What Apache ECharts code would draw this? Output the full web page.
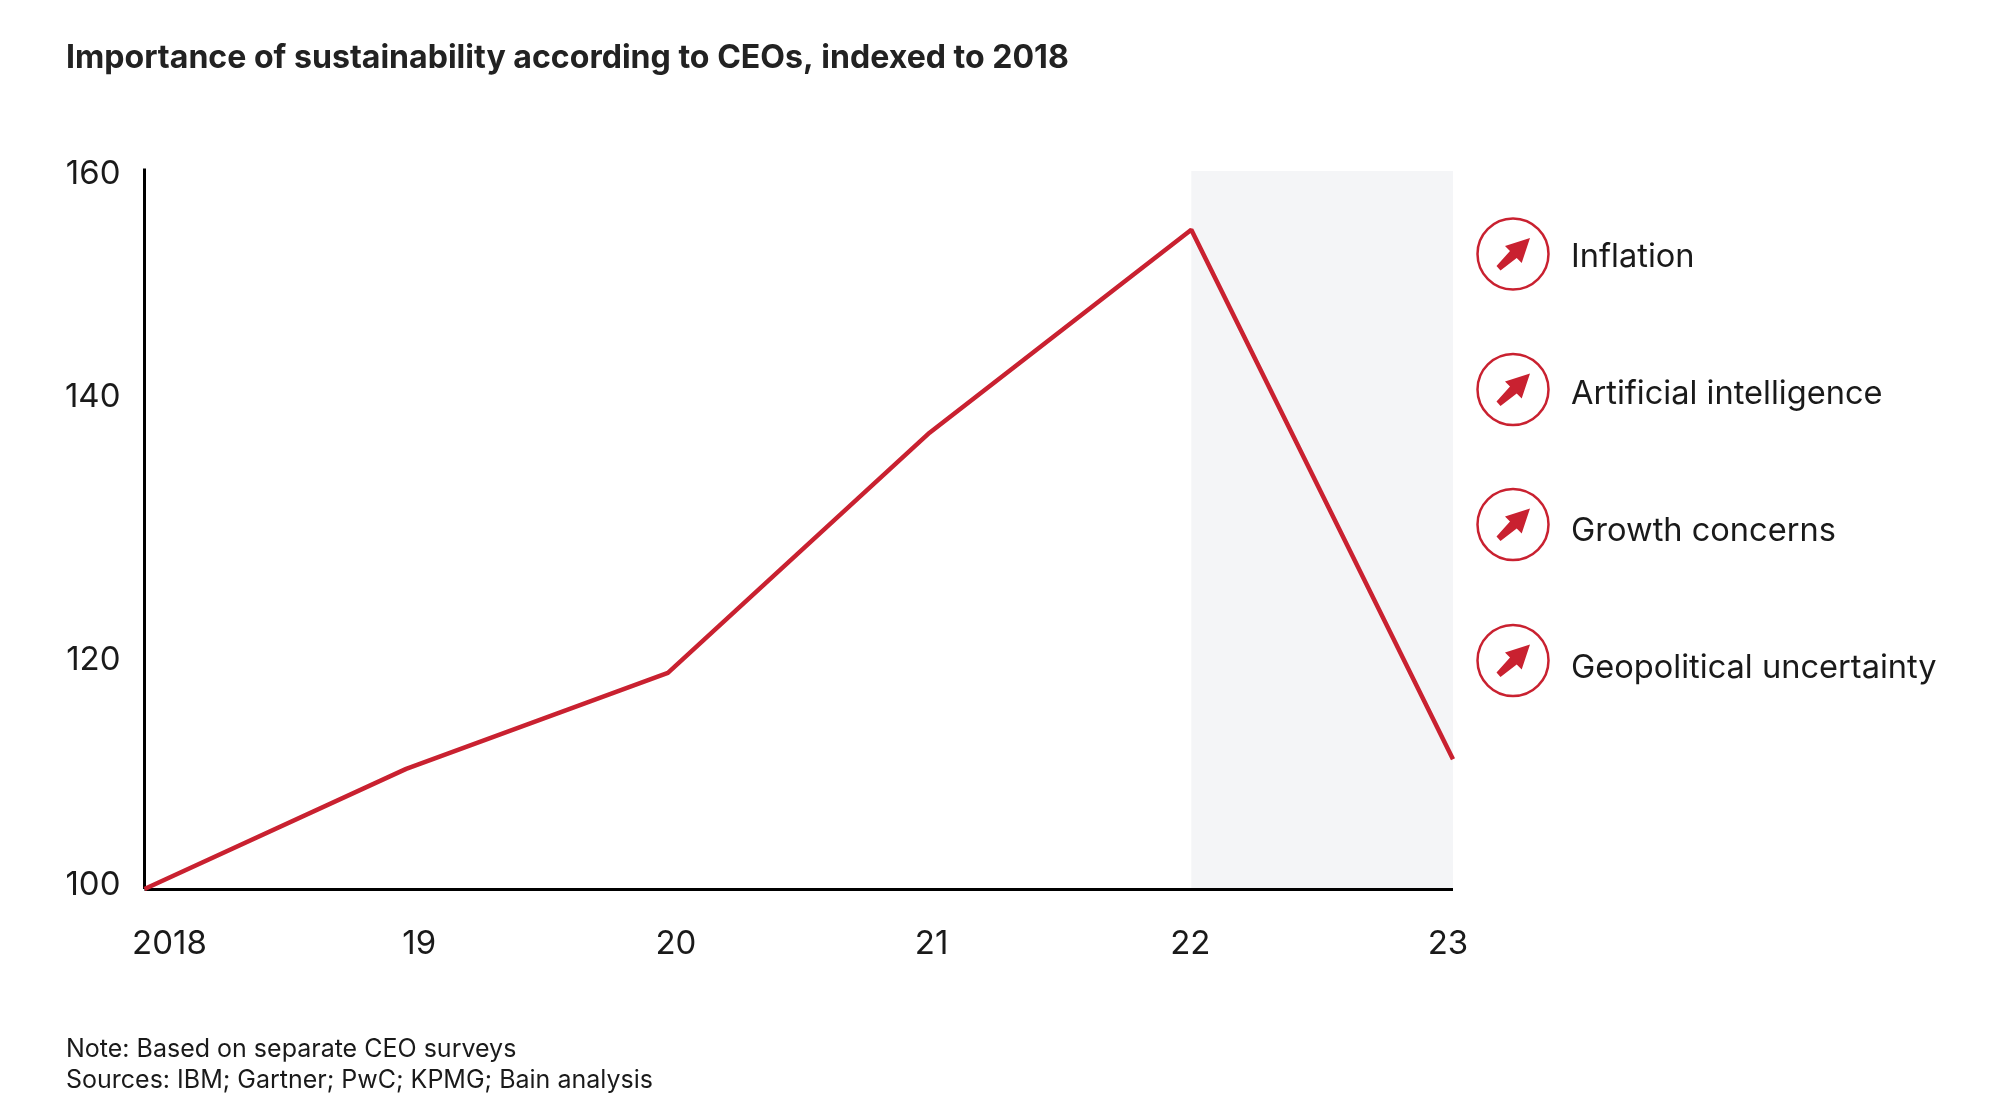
<!DOCTYPE html>
<html><head><meta charset="utf-8">
<style>html,body{margin:0;padding:0;background:#fff}#c{width:1996px;height:1120px}</style>
<script src="https://cdn.jsdelivr.net/npm/echarts@6/dist/echarts.min.js"></script>
</head><body><div id="c"></div>
<script>
const titleText = 'Importance of sustainability according to CEOs, indexed to 2018';
const noteText = 'Note: Based on separate CEO surveys\nSources: IBM; Gartner; PwC; KPMG; Bain analysis';
const years = ['2018', '19', '20', '21', '22', '23'];
const importance = [100, 110, 118, 138, 154.9, 110.8];
const yTicks = [100, 120, 140, 160];
const factors = ['Inflation', 'Artificial intelligence', 'Growth concerns', 'Geopolitical uncertainty'];
const shadedFrom = '22', shadedTo = '23';

// Layout: nudges (px) that reproduce the hand-placed tick labels of the original
const xNudge = {'2018': 25, '19': 13, '20': 8, '21': 2, '22': -1, '23': -5};
const yNudge = {100: -3.7, 120: 11.3, 140: -11.7, 160: 5.8};
const RED = '#c92130', FONT = 'Inter';
const rowCircleY = [254, 389.5, 524.5, 660.5];
const rowTextY = [257.3, 393.8, 531.3, 668.3];
const CX = 1513;

const xRich = {}, yRich = {};
years.forEach((y, i) => { const n = xNudge[y]; xRich['x' + i] = {fontFamily: FONT, fontSize: 33, color: '#1a1a1a', padding: n > 0 ? [0, 0, 0, 2 * n] : [0, -2 * n, 0, 0]}; });
yTicks.forEach(v => { const n = yNudge[v]; yRich['y' + v] = {fontFamily: FONT, fontSize: 33, color: '#1a1a1a', padding: n > 0 ? [2 * n, 0, 0, 0] : [0, 0, -2 * n, 0]}; });

const graphics = [];
factors.forEach((name, i) => {
  const cy = rowCircleY[i];
  graphics.push({type: 'circle', shape: {cx: CX, cy: cy, r: 35.5}, style: {fill: 'none', stroke: RED, lineWidth: 2.5}});
  graphics.push({type: 'polygon', shape: {points: [[17, -16], [-8, -8], [-3, -3], [-16.5, 12], [-12.5, 16.5], [3.7, 4], [8.7, 9]].map(p => [CX + p[0], cy + p[1]])}, style: {fill: RED}});
  graphics.push({type: 'text', x: 1571, y: rowTextY[i], style: {text: name, font: '400 32.6px ' + FONT, fill: '#1a1a1a', verticalAlign: 'middle'}});
});

const chart = echarts.init(document.getElementById('c'));
chart.setOption({
  animation: false,
  backgroundColor: '#fff',
  title: [
    {text: titleText, left: 66, top: 42, padding: 0, textStyle: {fontFamily: FONT, fontWeight: 700, fontSize: 32.1, color: '#222'}},
    {text: noteText, left: 66, top: 1033.5, padding: 0, textStyle: {fontFamily: FONT, fontWeight: 400, fontSize: 25, lineHeight: 31, color: '#1a1a1a'}}
  ],
  grid: {left: 144.5, top: 168.5, width: 1308.5, height: 720.5},
  xAxis: {
    type: 'category', data: years, boundaryGap: false, z: 1.5,
    axisLine: {lineStyle: {color: '#000', width: 3, cap: 'butt'}}, axisTick: {show: false},
    axisLabel: {margin: 39, interval: 0, formatter: (v) => '{x' + years.indexOf(v) + '|' + v + '}', rich: xRich}
  },
  yAxis: {
    type: 'value', min: 100, max: 160, interval: 20, z: 1.5,
    axisLine: {show: true, lineStyle: {color: '#000', width: 3, cap: 'butt'}}, axisTick: {show: false},
    splitLine: {show: false},
    axisLabel: {margin: 24, formatter: (v) => '{y' + v + '|' + v + '}', rich: yRich}
  },
  series: [{
    type: 'line', data: importance, symbol: 'none', z: 2, lineStyle: {color: RED, width: 4.5},
    markArea: {silent: true, z: 1, itemStyle: {color: '#f4f5f7'}, data: [[{xAxis: shadedFrom, yAxis: 100}, {xAxis: shadedTo, yAxis: 159.8}]]}
  }],
  graphic: graphics
});
</script></body></html>
